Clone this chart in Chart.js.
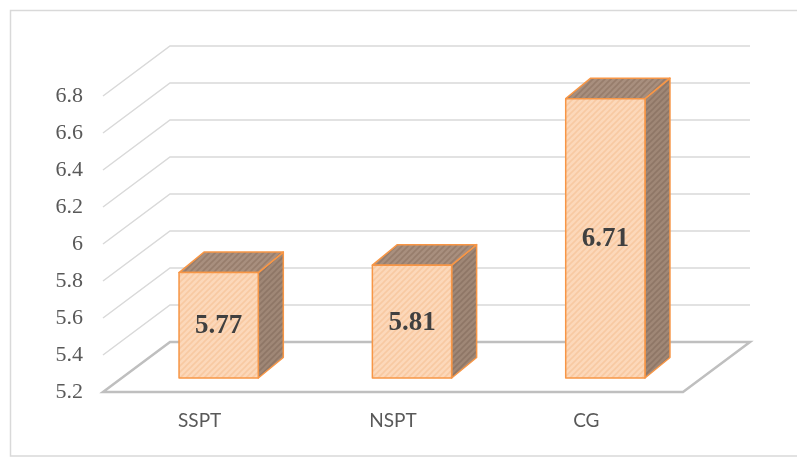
<!DOCTYPE html>
<html>
<head>
<meta charset="utf-8">
<script src="https://cdn.jsdelivr.net/npm/chart.js@4/dist/chart.umd.min.js"></script>
<style>
  html, body { margin: 0; padding: 0; background: #ffffff; }
  canvas { display: block; }
</style>
</head>
<body>
<canvas id="chart" width="797" height="457"></canvas>
<script>
const categories = ["SSPT", "NSPT", "CG"];
const scores = [5.77, 5.81, 6.71];
const yTicks = [5.2, 5.4, 5.6, 5.8, 6.0, 6.2, 6.4, 6.6, 6.8];

// 3d look: back wall offset and bar placement inside the floor depth
const WALL_DX = 67, WALL_DY = 50;
const BAR_DX = 19, BAR_DY = 14;
const DEPTH_DX = 25, DEPTH_DY = 20.5;

function hatch(base, stripe) {
    const s = 6;
    const c = document.createElement("canvas");
    c.width = s; c.height = s;
    const g = c.getContext("2d");
    g.fillStyle = base;
    g.fillRect(0, 0, s, s);
    g.strokeStyle = stripe;
    g.lineWidth = 1.6;
    g.beginPath();
    g.moveTo(-1, s + 1); g.lineTo(s + 1, -1);
    g.moveTo(-1, 1); g.lineTo(1, -1);
    g.moveTo(s - 1, s + 1); g.lineTo(s + 1, s - 1);
    g.stroke();
    return g.createPattern(c, "repeat");
}

const frontFill = hatch("#fcd8ba", "#f8c9a2");
const sideFill = hatch("#9f8776", "#8e7666");
const topFill = hatch("#a88f7e", "#977d6c");

const framePlugin = {
    id: "frame",
    beforeDraw(chart) {
        const ctx = chart.ctx;
        ctx.save();
        ctx.strokeStyle = "#d9d9d9";
        ctx.lineWidth = 1.5;
        ctx.strokeRect(10.5, 10.5, 800, 445.5);
        ctx.restore();
    }
};

const wallPlugin = {
    id: "wall",
    beforeDatasetsDraw(chart) {
        const ctx = chart.ctx;
        const y = chart.scales.y;
        const { left, right, bottom } = chart.chartArea;
        ctx.save();
        ctx.strokeStyle = "#d9d9d9";
        ctx.lineWidth = 1.5;
        yTicks.slice(1).forEach(v => {
            const py = y.getPixelForValue(v);
            ctx.beginPath();
            ctx.moveTo(left, py);
            ctx.lineTo(left + WALL_DX, py - WALL_DY);
            ctx.lineTo(right + WALL_DX, py - WALL_DY);
            ctx.stroke();
        });
        // floor
        ctx.strokeStyle = "#bfbfbf";
        ctx.lineWidth = 2.5;
        ctx.beginPath();
        ctx.moveTo(left, bottom);
        ctx.lineTo(right, bottom);
        ctx.lineTo(right + WALL_DX, bottom - WALL_DY);
        ctx.lineTo(left + WALL_DX, bottom - WALL_DY);
        ctx.closePath();
        ctx.stroke();
        ctx.restore();
    }
};

function face(ctx, pts, fill) {
    ctx.beginPath();
    ctx.moveTo(pts[0][0], pts[0][1]);
    pts.slice(1).forEach(p => ctx.lineTo(p[0], p[1]));
    ctx.closePath();
    ctx.fillStyle = fill;
    ctx.fill();
    ctx.stroke();
}

const boxPlugin = {
    id: "boxes",
    afterDatasetsDraw(chart) {
        const ctx = chart.ctx;
        const meta = chart.getDatasetMeta(0);
        ctx.save();
        ctx.strokeStyle = "#f79646";
        ctx.lineWidth = 1.5;
        ctx.lineJoin = "round";
        meta.data.forEach((bar, i) => {
            const p = bar.getProps(["x", "y", "base", "width"], true);
            const l = p.x - p.width / 2 + BAR_DX;
            const r = p.x + p.width / 2 + BAR_DX;
            const t = p.y - BAR_DY;
            const b = p.base - BAR_DY;
            face(ctx, [[r, t], [r + DEPTH_DX, t - DEPTH_DY], [r + DEPTH_DX, b - DEPTH_DY], [r, b]], sideFill);
            face(ctx, [[l, t], [l + DEPTH_DX, t - DEPTH_DY], [r + DEPTH_DX, t - DEPTH_DY], [r, t]], topFill);
            face(ctx, [[l, t], [r, t], [r, b], [l, b]], frontFill);
            ctx.fillStyle = "#404040";
            ctx.font = "bold 27px 'Liberation Serif', 'Times New Roman', serif";
            ctx.textAlign = "center";
            ctx.textBaseline = "middle";
            ctx.fillText(scores[i].toFixed(2), (l + r) / 2, (t + b) / 2 + 1);
        });
        ctx.restore();
    }
};

new Chart(document.getElementById("chart"), {
    type: "bar",
    data: {
        labels: categories,
        datasets: [{
            data: scores,
            base: yTicks[0],
            backgroundColor: "rgba(0,0,0,0)",
            borderWidth: 0,
            barPercentage: 0.41,
            categoryPercentage: 1
        }]
    },
    options: {
        responsive: false,
        animation: false,
        devicePixelRatio: 1,
        layout: {
            padding: { left: 0, right: 114, top: 96, bottom: 0 }
        },
        plugins: {
            legend: { display: false },
            tooltip: { enabled: false }
        },
        scales: {
            x: {
                grid: { display: false, drawTicks: false },
                border: { display: false },
                ticks: {
                    padding: 17,
                    color: "#595959",
                    font: { family: "Lato", size: 19 }
                },
                afterFit(scale) { scale.height = 65; }
            },
            y: {
                min: 5.2,
                max: 6.8,
                grid: { display: false, drawTicks: false },
                border: { display: false },
                afterBuildTicks(scale) {
                    scale.ticks = yTicks.map(v => ({ value: v }));
                },
                ticks: {
                    padding: 20,
                    color: "#595959",
                    font: { family: "'Liberation Serif'", size: 22 },
                    callback: v => String(Number(v.toFixed(1)))
                },
                afterFit(scale) { scale.width = 103; }
            }
        }
    },
    plugins: [framePlugin, wallPlugin, boxPlugin]
});
</script>
</body>
</html>
